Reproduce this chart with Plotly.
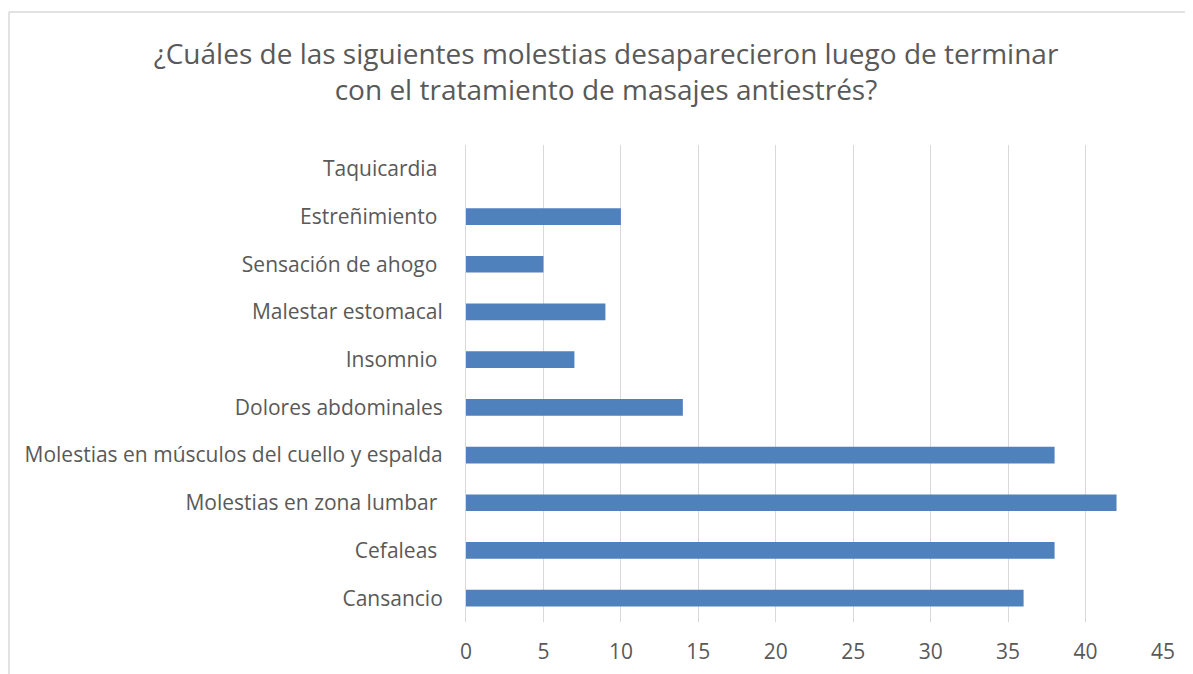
import plotly.graph_objects as go

categories = [
    "Cansancio",
    "Cefaleas\u00a0",
    "Molestias en zona lumbar\u00a0",
    "Molestias en músculos del cuello y espalda",
    "Dolores abdominales",
    "Insomnio\u00a0",
    "Malestar estomacal",
    "Sensación de ahogo\u00a0",
    "Estreñimiento\u00a0",
    "Taquicardia\u00a0",
]
values = [36, 38, 42, 38, 14, 7, 9, 5, 10, 0]
x_ticks = [0, 5, 10, 15, 20, 25, 30, 35, 40, 45]
title_text = "¿Cuáles de las siguientes molestias desaparecieron luego de terminar<br>con el tratamiento de masajes antiestrés?"

TEXT = "#595959"
GRID = "#d9d9d9"
FONT = "Open Sans"

# page offset from body margin
OFF = 8
W, H = 1193 - OFF, 674 - OFF
# plot area in figure pixels
L, R, T, B = 466 - OFF, 1163 - OFF, 145 - OFF, 622 - OFF

fig = go.Figure(
    go.Bar(
        x=values,
        y=categories,
        orientation="h",
        marker=dict(color="#4f81bd", line=dict(width=0)),
        width=0.35,
    )
)

def px_to_paper_x(px):
    return (px - L) / (R - L)

def px_to_paper_y(py):
    return (B - py) / (B - T)

bx = px_to_paper_x(9 - OFF)
by = px_to_paper_y(12 - OFF)

fig.update_layout(
    width=W,
    height=H,
    margin=dict(l=L, r=W - R, t=T, b=H - B, pad=0, autoexpand=False),
    paper_bgcolor="white",
    plot_bgcolor="white",
    showlegend=False,
    font=dict(family=FONT, color=TEXT, size=21),
    title=dict(
        text=title_text,
        x=(606 - OFF) / W,
        xanchor="center",
        xref="container",
        y=1 - (64 - OFF) / H,
        yanchor="middle",
        yref="container",
        font=dict(family=FONT, size=28, color=TEXT),
    ),
    xaxis=dict(
        range=[0, 45],
        tickvals=x_ticks,
        ticktext=[str(v) for v in x_ticks],
        showgrid=True,
        gridcolor=GRID,
        gridwidth=1,
        zeroline=False,
        showline=False,
        ticks="",
        ticklabelstandoff=15,
        tickfont=dict(family=FONT, size=21, color=TEXT),
        automargin=False,
        fixedrange=True,
    ),
    yaxis=dict(
        categoryorder="array",
        categoryarray=categories,
        showgrid=False,
        zeroline=False,
        showline=True,
        linecolor=GRID,
        linewidth=1,
        ticks="",
        ticklabelstandoff=18,
        tickfont=dict(family=FONT, size=21, color=TEXT),
        automargin=False,
        fixedrange=True,
    ),
    shapes=[
        dict(type="line", xref="paper", yref="paper", x0=bx, x1=1.2, y0=by, y1=by,
             line=dict(color=GRID, width=1.5)),
        dict(type="line", xref="paper", yref="paper", x0=bx, x1=bx, y0=-0.2, y1=by,
             line=dict(color=GRID, width=1.5)),
    ],
    bargap=0.65,
)

fig.write_html("out.html")
